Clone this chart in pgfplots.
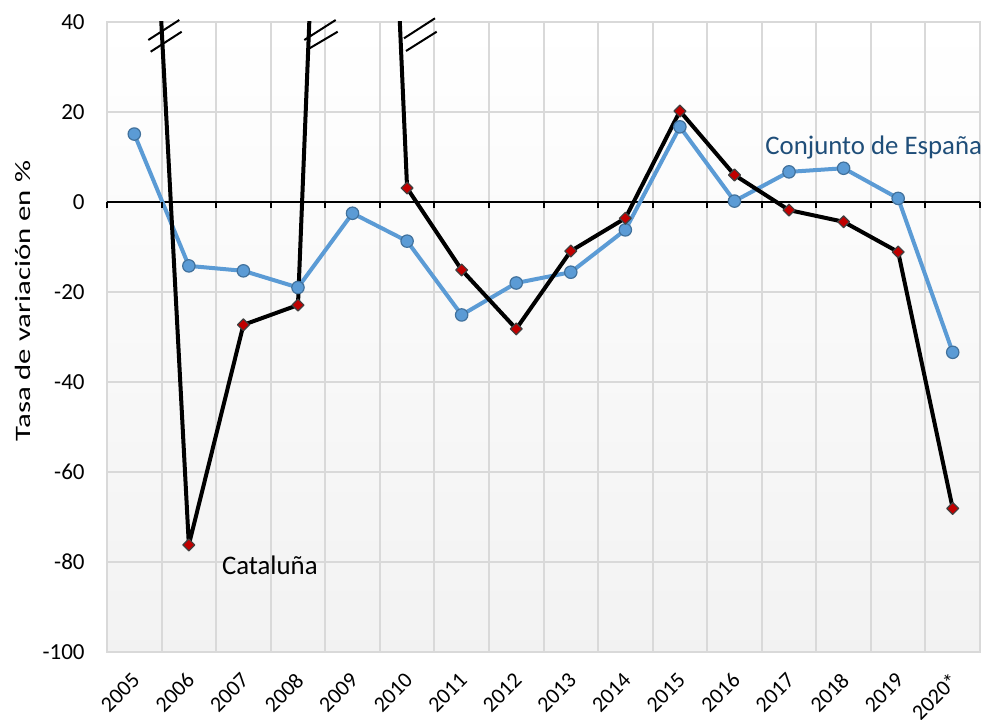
\documentclass[border=0pt]{standalone}
\usepackage{pgfplots}
\pgfplotsset{compat=1.18}
\usepackage{fontspec}
\setmainfont{Carlito}
\usepackage{graphicx}
\definecolor{bl}{HTML}{5B9BD5}
\definecolor{bledge}{HTML}{41719C}
\definecolor{rd}{HTML}{C00000}
\definecolor{gridc}{HTML}{D9D9D9}
\definecolor{lbl}{HTML}{1F4E79}
\begin{document}
\begin{tikzpicture}
\path[use as bounding box] (-53.5pt,-33.5pt) rectangle (439.5pt,326pt);
\begin{axis}[
  at={(0,0)}, anchor=south west,
  scale only axis, width=436.5pt, height=315pt,
  xmin=-0.5, xmax=15.5, ymin=-100, ymax=40,
  ytick={-100,-80,...,40},
  xtick={0,...,15},
  xticklabels={2005,2006,2007,2008,2009,2010,2011,2012,2013,2014,2015,2016,2017,2018,2019,2020*},
  minor xtick={-0.5,0.5,...,15.5},
  xminorgrids, ymajorgrids,
  major tick length=0pt, minor tick length=0pt,
  grid style={gridc, line width=1pt},
  minor grid style={gridc, line width=1pt},
  axis line style={gridc, line width=1pt},
  yticklabel style={font=\fontsize{11.5}{12}\selectfont},
  /pgf/number format/assume math mode=true,
  yticklabel style={inner sep=0pt, xshift=-11pt},
  xticklabel style={font=\fontsize{11}{12}\selectfont, inner sep=0pt, anchor=east, xshift=1.0pt, yshift=-12.3pt, rotate=45},
  extra y ticks={0}, extra y tick labels={},
  extra y tick style={grid=major, grid style={black, line width=1pt}},
  axis background/.style={top color=white, bottom color=black!5},
  ylabel={\scalebox{1.4}[1]{Tasa de variación en \%}},
  ylabel style={at={(axis description cs:-0.0962,0.557)}, anchor=center, font=\fontsize{11}{12}\selectfont},
]
\addplot[bl, line width=2pt, line join=round, mark=*, mark size=3.1pt,
  mark options={fill=bl, draw=bledge, line width=0.6pt}]
  coordinates {(0,15.1) (1,-14.2) (2,-15.3) (3,-19.0) (4,-2.5) (5,-8.7) (6,-25.1) (7,-18.0)
  (8,-15.6) (9,-6.2) (10,16.7) (11,0.2) (12,6.7) (13,7.5) (14,0.8) (15,-33.4)};
\addplot[black, line width=2pt, line join=round, mark=square*, mark size=2.1pt,
  mark options={rotate=45, fill=rd, draw=black!75, line width=0.6pt}]
  coordinates {(0,154) (1,-76.2) (2,-27.3) (3,-22.9) (4,280) (5,3.1) (6,-15.1) (7,-28.2)
  (8,-10.9) (9,-3.6) (10,20.2) (11,6) (12,-1.8) (13,-4.4) (14,-11.1) (15,-68.1)};
\end{axis}
\foreach \k in {0,...,16} \draw[black, line width=1pt] ({\k*27.28125pt},225pt) -- ++(0,-3pt);
\begin{scope}[black, line width=1pt]
\draw (20.65pt,306pt) -- (36.15pt,316pt);
\draw (21.85pt,300.15pt) -- (37.35pt,310.15pt);
\draw (98.65pt,306pt) -- (114.35pt,316pt);
\draw (99.85pt,301pt) -- (115.35pt,310.15pt);
\draw (148.5pt,306.85pt) -- (164pt,316.85pt);
\draw (149.5pt,300.5pt) -- (164.85pt,310.15pt);
\end{scope}
\node[anchor=base west, inner sep=0pt, text=lbl, font=\fontsize{13.4}{14}\selectfont] at (329pt,248.5pt) {Conjunto de España};
\node[anchor=base west, inner sep=0pt, font=\fontsize{13.4}{14}\selectfont] at (57.35pt,39pt) {Cataluña};
\end{tikzpicture}
\end{document}
